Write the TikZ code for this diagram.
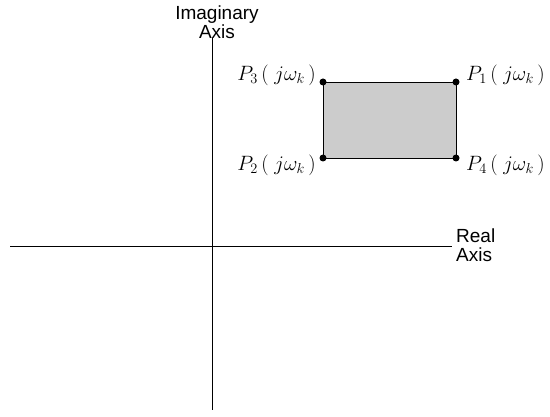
\documentclass[tikz,border=0pt]{standalone}
\usepackage{fontspec}
\setsansfont{Liberation Sans}
\begin{document}
\begin{tikzpicture}[x=1pt,y=1pt,
  dot/.style={circle, fill=black, inner sep=0pt, minimum size=7pt},
  axislabel/.style={font=\sffamily\fontsize{19}{19}\selectfont, align=center, inner sep=0pt},
  plabel/.style={font=\fontsize{21}{23}\selectfont, inner sep=0pt}]
  \useasboundingbox (0,0) rectangle (550,416);
  % axes
  \coordinate (itop) at (212,378);
  \coordinate (ibot) at (212,6);
  \coordinate (rleft) at (10,170);
  \coordinate (rright) at (452,170);
  \draw[line width=0.9pt] (itop) -- (ibot);
  \draw[line width=0.9pt] (rleft) -- (rright);
  \node[axislabel] (imag) at (217,394) {Imaginary\\Axis};
  \node[axislabel, align=left, anchor=west] (real) at (456,171) {Real\\Axis};
  % rectangle of the four points
  \coordinate (c3) at (323,334);
  \coordinate (c1) at (456,334);
  \coordinate (c2) at (323,258);
  \coordinate (c4) at (456,258);
  \filldraw[fill=black!20, line width=0.9pt] (c3) -- (c1) -- (c4) -- (c2) -- cycle;
  \node[dot] (p3) at (c3) {};
  \node[dot] (p1) at (c1) {};
  \node[dot] (p2) at (c2) {};
  \node[dot] (p4) at (c4) {};
  \node[plabel, anchor=east] (l3) at (316,341) {$P_3\,\bigl(\;j\omega_k\,\bigr)$};
  \node[plabel, anchor=west] (l1) at (466,341) {$P_1\,\bigl(\;j\omega_k\,\bigr)$};
  \node[plabel, anchor=east] (l2) at (316,251) {$P_2\,\bigl(\;j\omega_k\,\bigr)$};
  \node[plabel, anchor=west] (l4) at (466,251) {$P_4\,\bigl(\;j\omega_k\,\bigr)$};
\end{tikzpicture}
\end{document}
